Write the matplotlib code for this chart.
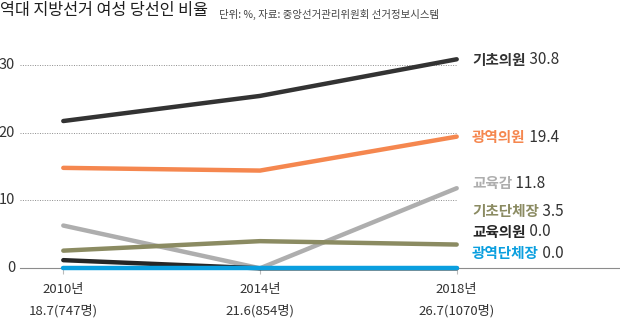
#!/usr/bin/env python3
"""Share of women elected in local elections, 2010-2018 (line chart)."""

import matplotlib
matplotlib.use('Agg')
import matplotlib.pyplot as plt

plt.rcParams['font.family'] = ['Noto Sans CJK KR', 'DejaVu Sans']

# Data
YEARS = ['2010년', '2014년', '2018년']
TOTALS = ['18.7(747명)', '21.6(854명)', '26.7(1070명)']
SERIES = ['기초의원', '광역의원', '교육감', '기초단체장', '교육의원', '광역단체장']
VALUES = [
    [21.7, 25.4, 30.8],   # 기초의원
    [14.8, 14.4, 19.4],   # 광역의원
    [6.3, 0.0, 11.8],     # 교육감
    [2.6, 4.0, 3.5],      # 기초단체장
    [1.2, 0.0, 0.0],      # 교육의원
    [0.0, 0.0, 0.0],      # 광역단체장
]
Y_TICKS = [0, 10, 20, 30]

# Styling
COLORS = ['#333333', '#F5874F', '#AEAEAE', '#8B8B62', '#262626', '#0A9FDF']
TEXT = '#333333'
W, H = 620, 323
LABEL_Y = [60, 137, 183, 211, 232, 253]   # pixel rows for end labels


def fx(px):
    return px / W


def fy(py):
    return 1 - py / H


def create_chart():
    fig = plt.figure(figsize=(W / 100, H / 100), dpi=100, facecolor='white')
    ax = fig.add_axes([0, 0, 1, 1])
    ax.axis('off')

    # data mapping: x index 0..2 -> px 63..457, y 0..30 -> px 268..65
    x0, x1 = 63.3, 456.7
    ppx = (x1 - x0) / 2
    yb, yt = 268.3, 64.7
    ppy = (yb - yt) / 30
    ax.set_xlim(-x0 / ppx, 2 + (W - x1) / ppx)
    ax.set_ylim(-(H - yb) / ppy, yb / ppy)

    gx0 = (20 - x0) / ppx
    xs = list(range(len(YEARS)))

    # grid and baseline
    for t in Y_TICKS[1:]:
        ax.plot([gx0, 2], [t, t], color='#8C8C8C', lw=0.7,
                linestyle=(0, (1, 1.5)), zorder=1)
    ax.plot([gx0, ax.get_xlim()[1]], [0, 0], color='#8C8C8C', lw=0.8, zorder=1)
    ax.vlines(xs, -0.8, 0, color='#BBBBBB', lw=0.8, zorder=1)

    for t in Y_TICKS:
        ax.text(fx(15), fy(yb - t * ppy), str(t), transform=fig.transFigure,
                fontsize=10.5, color=TEXT, ha='right', va='center')

    # lines
    for vals, c in zip(VALUES, COLORS):
        ax.plot(xs, vals, color=c, lw=3.2, solid_capstyle='round',
                solid_joinstyle='round', zorder=3)

    # end labels
    for name, vals, c, ly in zip(SERIES, VALUES, COLORS, LABEL_Y):
        t = ax.text(fx(472), fy(ly), name, transform=fig.transFigure,
                    fontsize=10.5, fontweight='bold', color=c,
                    ha='left', va='center')
        ax.annotate(f' {vals[-1]:.1f}', xycoords=t, xy=(1, 0.5),
                    fontsize=11, color=TEXT, ha='left', va='center')

    # x labels
    for i, (yr, tot) in enumerate(zip(YEARS, TOTALS)):
        px = x0 + i * ppx
        ax.text(fx(px), fy(290), yr, transform=fig.transFigure,
                fontsize=9.5, color=TEXT, ha='center', va='center')
        ax.text(fx(px), fy(311), tot, transform=fig.transFigure,
                fontsize=9.5, color=TEXT, ha='center', va='center')

    # header
    ax.text(fx(0), fy(11), '역대 지방선거 여성 당선인 비율', transform=fig.transFigure,
            fontsize=11.7, color='#1E1E1E', ha='left', va='center')
    ax.text(fx(219), fy(14), '단위: %, 자료: 중앙선거관리위원회 선거정보시스템',
            transform=fig.transFigure, fontsize=7.5, color='#444444',
            ha='left', va='center')
    return fig


def main():
    fig = create_chart()
    fig.savefig('out.png', dpi=100, facecolor='white')
    plt.close(fig)


if __name__ == '__main__':
    main()
